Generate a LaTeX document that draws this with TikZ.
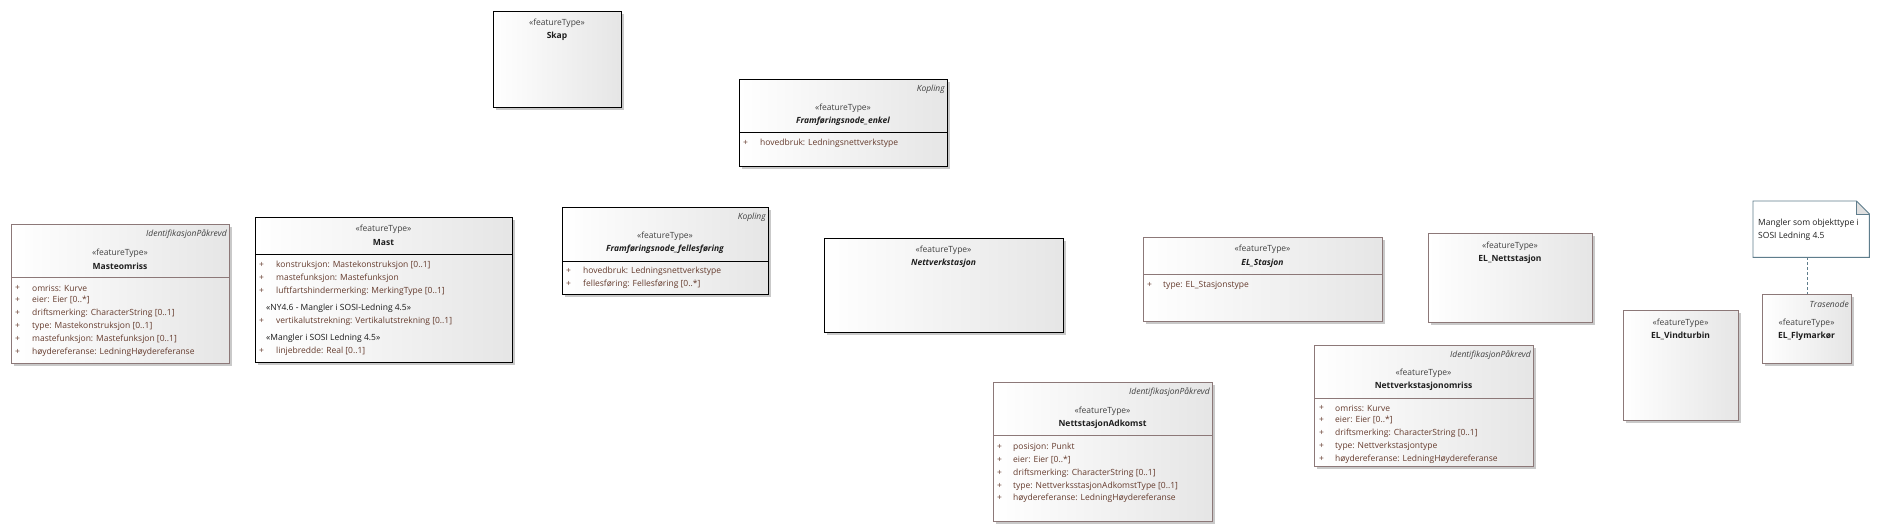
\documentclass[tikz,border=0pt]{standalone}
\usepackage{fontspec}
\setmainfont{Open Sans}
\usetikzlibrary{shadows}
\definecolor{brd}{RGB}{140,120,120}
\definecolor{atc}{RGB}{100,58,44}
\definecolor{stc}{RGB}{65,65,65}
\definecolor{nmc}{RGB}{30,30,30}
\definecolor{notec}{RGB}{95,125,140}
\newcommand{\fsz}{\fontsize{8.5}{10}\selectfont}
\tikzset{
  cls/.style={draw=black, line width=0.9pt, left color=white, right color=black!10,
    drop shadow={shadow xshift=3pt, shadow yshift=-3pt, fill=black!30, opacity=0.7},
    inner sep=0pt, anchor=north west},
  clsb/.style={cls, draw=brd},
  st/.style={font=\fsz, text=stc, inner sep=0pt},
  nm/.style={font=\fsz\bfseries, text=nmc, inner sep=0pt},
  nmi/.style={font=\fsz\bfseries\itshape, text=nmc, inner sep=0pt},
  attr/.style={font=\fsz, text=atc, inner sep=0pt, anchor=west},
  grp/.style={font=\fsz, text=black!90, inner sep=0pt, anchor=west},
  tag/.style={font=\fsz\itshape, text=stc, inner sep=0pt, anchor=east},
  divb/.style={draw=brd, line width=0.9pt},
  divk/.style={draw=black, line width=0.9pt},
}
\begin{document}
\begin{tikzpicture}[x=1pt,y=-1pt]
\useasboundingbox (0,0) rectangle (1878,532);

% Masteomriss
\node[clsb, minimum width=218pt, minimum height=139pt] (mo) at (11,224) {};
\draw[divb] (11,277) -- (229,277);
\node[tag] (mo-t) at (227,234) {IdentifikasjonPåkrevd};
\node[st] (mo-s) at (120,253) {«featureType»};
\node[nm] (mo-n) at (120,266) {Masteomriss};
\foreach \y/\t [count=\i] in {288/omriss: Kurve, 300/{eier: Eier [0..*]}, 313/{driftsmerking: CharacterString [0..1]}, 326/{type: Mastekonstruksjon [0..1]}, 339/{mastefunksjon: Mastefunksjon [0..1]}, 352/høydereferanse: LedningHøydereferanse}{
  \node[attr] (mo-p\i) at (15,\y) {+};
  \node[attr] (mo-a\i) at (32,\y) {\t};
}

% Mast
\node[cls, minimum width=257pt, minimum height=145pt] (mast) at (255,217) {};
\draw[divk] (255,254) -- (512,254);
\node[st] (mast-s) at (383.5,229) {«featureType»};
\node[nm] (mast-n) at (383.5,243) {Mast};
\foreach \y/\t [count=\i] in {265/{konstruksjon: Mastekonstruksjon [0..1]}, 278/mastefunksjon: Mastefunksjon, 291/{luftfartshindermerking: MerkingType [0..1]}, 321/{vertikalutstrekning: Vertikalutstrekning [0..1]}, 351/{linjebredde: Real [0..1]}}{
  \node[attr] (mast-p\i) at (259,\y) {+};
  \node[attr] (mast-a\i) at (276,\y) {\t};
}
\node[grp] (mast-g1) at (266,308) {«NY4.6 - Mangler i SOSI-Ledning 4.5»};
\node[grp] (mast-g2) at (266,338) {«Mangler i SOSI Ledning 4.5»};

% Skap
\node[cls, minimum width=128pt, minimum height=96pt] (skap) at (493,11) {};
\node[st] (skap-s) at (557,23) {«featureType»};
\node[nm] (skap-n) at (557,36) {Skap};

% Framføringsnode_enkel
\node[cls, minimum width=208pt, minimum height=87pt] (fe) at (739,79) {};
\draw[divk] (739,132) -- (947,132);
\node[tag] (fe-t) at (945,89) {Kopling};
\node[st] (fe-s) at (843,108) {«featureType»};
\node[nmi] (fe-n) at (843,121) {Framføringsnode\_enkel};
\node[attr] (fe-p1) at (743,143) {+};
\node[attr] (fe-a1) at (760,143) {hovedbruk: Ledningsnettverkstype};

% Framføringsnode_fellesføring
\node[cls, minimum width=206pt, minimum height=87pt] (ff) at (562,207) {};
\draw[divk] (562,261) -- (768,261);
\node[tag] (ff-t) at (766,217) {Kopling};
\node[st] (ff-s) at (665,236) {«featureType»};
\node[nmi] (ff-n) at (665,249) {Framføringsnode\_fellesføring};
\node[attr] (ff-p1) at (566,271) {+};
\node[attr] (ff-a1) at (583,271) {hovedbruk: Ledningsnettverkstype};
\node[attr] (ff-p2) at (566,284) {+};
\node[attr] (ff-a2) at (583,284) {fellesføring: Fellesføring [0..*]};

% Nettverkstasjon
\node[cls, minimum width=239pt, minimum height=94pt] (nv) at (824,238) {};
\node[st] (nv-s) at (943.5,250) {«featureType»};
\node[nmi] (nv-n) at (943.5,263) {Nettverkstasjon};

% EL_Stasjon
\node[clsb, minimum width=239pt, minimum height=84pt] (els) at (1143,237) {};
\draw[divb] (1143,274) -- (1382,274);
\node[st] (els-s) at (1262.5,249) {«featureType»};
\node[nmi] (els-n) at (1262.5,263) {EL\_Stasjon};
\node[attr] (els-p1) at (1147,285) {+};
\node[attr] (els-a1) at (1163,285) {type: EL\_Stasjonstype};

% EL_Nettstasjon
\node[clsb, minimum width=164pt, minimum height=89pt] (eln) at (1428,233) {};
\node[st] (eln-s) at (1510,246) {«featureType»};
\node[nm] (eln-n) at (1510,259) {EL\_Nettstasjon};

% EL_Vindturbin
\node[clsb, minimum width=115pt, minimum height=110pt] (elv) at (1623,310) {};
\node[st] (elv-s) at (1680.5,323) {«featureType»};
\node[nm] (elv-n) at (1680.5,336) {EL\_Vindturbin};

% EL_Flymarkør
\node[clsb, minimum width=89pt, minimum height=69pt] (flym) at (1762,294) {};
\node[tag] (flym-t) at (1849,304) {Trasenode};
\node[st] (flym-s) at (1806.5,323) {«featureType»};
\node[nm] (flym-n) at (1806.5,336) {EL\_Flymarkør};

% NettstasjonAdkomst
\node[clsb, minimum width=219pt, minimum height=139pt] (na) at (993,382) {};
\draw[divb] (993,435) -- (1212,435);
\node[tag] (na-t) at (1210,392) {IdentifikasjonPåkrevd};
\node[st] (na-s) at (1102.5,411) {«featureType»};
\node[nm] (na-n) at (1102.5,424) {NettstasjonAdkomst};
\foreach \y/\t [count=\i] in {447/posisjon: Punkt, 460/{eier: Eier [0..*]}, 473/{driftsmerking: CharacterString [0..1]}, 486/{type: NettverksstasjonAdkomstType [0..1]}, 498/høydereferanse: LedningHøydereferanse}{
  \node[attr] (na-p\i) at (997,\y) {+};
  \node[attr] (na-a\i) at (1013,\y) {\t};
}

% Nettverkstasjonomriss
\node[clsb, minimum width=219pt, minimum height=121pt] (nvo) at (1314,345) {};
\draw[divb] (1314,398) -- (1533,398);
\node[tag] (nvo-t) at (1531,355) {IdentifikasjonPåkrevd};
\node[st] (nvo-s) at (1423.5,373) {«featureType»};
\node[nm] (nvo-n) at (1423.5,386) {Nettverkstasjonomriss};
\foreach \y/\t [count=\i] in {408/omriss: Kurve, 420/{eier: Eier [0..*]}, 433/{driftsmerking: CharacterString [0..1]}, 446/type: Nettverkstasjontype, 459/høydereferanse: LedningHøydereferanse}{
  \node[attr] (nvo-p\i) at (1319,\y) {+};
  \node[attr] (nvo-a\i) at (1335,\y) {\t};
}

% Note
\node[inner sep=0pt, minimum width=116pt, minimum height=56pt, anchor=north west] (note) at (1753,201) {};
\fill[white] (note.north west) -- ([xshift=-13pt]note.north east) -- ([yshift=-13pt]note.north east) -- (note.south east) -- (note.south west) -- cycle;
\fill[black!12] ([xshift=-13pt]note.north east) -- ([yshift=-13pt]note.north east) -- ([xshift=-13pt,yshift=-13pt]note.north east) -- cycle;
\draw[notec, line width=0.9pt, line join=miter] (note.north west) -- ([xshift=-13pt]note.north east) -- ([yshift=-13pt]note.north east) -- (note.south east) -- (note.south west) -- cycle;
\draw[notec, line width=0.7pt] ([xshift=-13pt]note.north east) -- ([xshift=-13pt,yshift=-13pt]note.north east) -- ([yshift=-13pt]note.north east);
\node[attr, text=nmc] (note-l1) at (1758,223) {Mangler som objekttype i};
\node[attr, text=nmc] (note-l2) at (1758,236) {SOSI Ledning 4.5};
\draw[notec, line width=0.9pt, dash pattern=on 3pt off 2pt] (note.south -| flym.north) -- (flym.north);
\end{tikzpicture}
\end{document}
